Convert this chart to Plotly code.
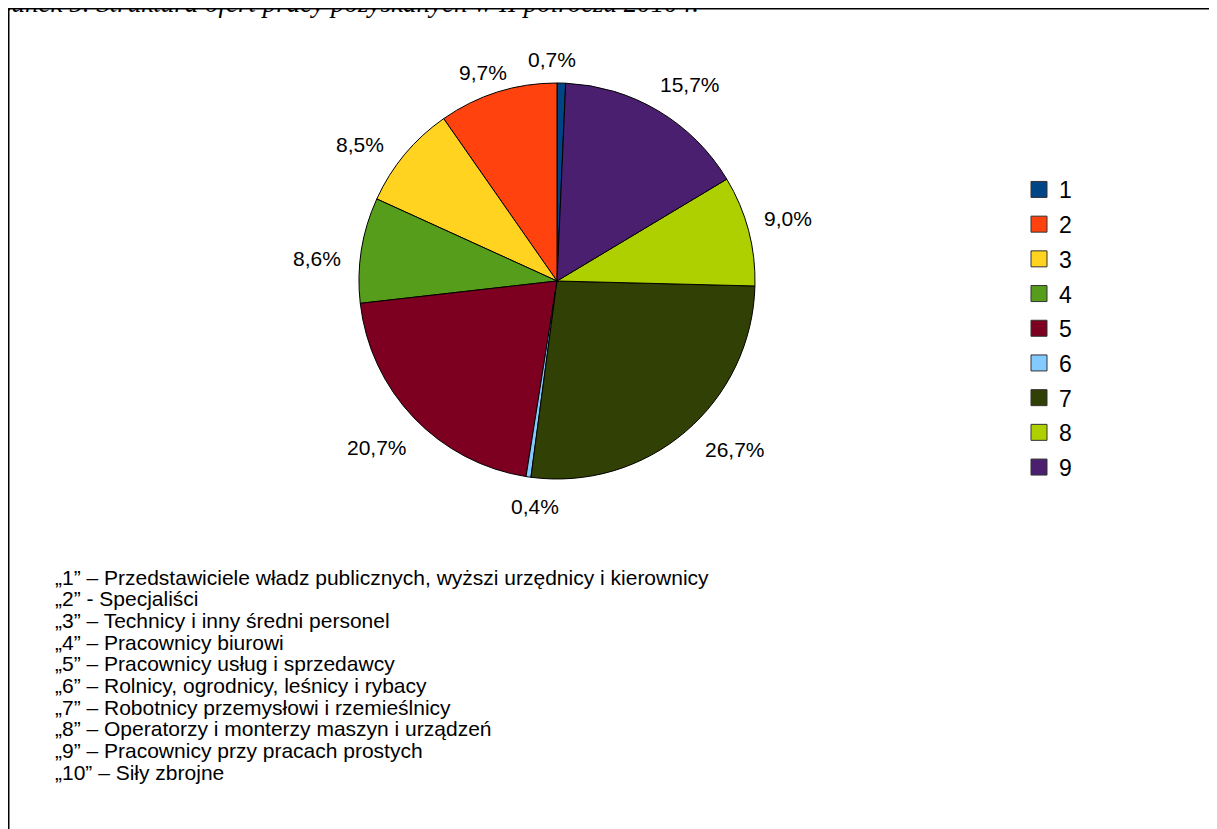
import math
import plotly.graph_objects as go

# figure is placed by the page with an 8px body margin
W, H = 1209, 821

categories = ["1", "2", "3", "4", "5", "6", "7", "8", "9"]
shares = [0.7, 9.7, 8.5, 8.6, 20.7, 0.4, 26.7, 9.0, 15.7]
colors = ["#004586", "#ff420e", "#ffd320", "#579d1c", "#7e0021",
          "#83caff", "#314004", "#aecf00", "#4b1f6f"]
descriptions = [
    "„1” – Przedstawiciele władz publicznych, wyższi urzędnicy i kierownicy",
    "„2” - Specjaliści",
    "„3” – Technicy i inny średni personel",
    "„4” – Pracownicy biurowi",
    "„5” – Pracownicy usług i sprzedawcy",
    "„6” – Rolnicy, ogrodnicy, leśnicy i rybacy",
    "„7” – Robotnicy przemysłowi i rzemieślnicy",
    "„8” – Operatorzy i monterzy maszyn i urządzeń",
    "„9” – Pracownicy przy pracach prostych",
    "„10” – Siły zbrojne",
]
title = "Rysunek 5. Struktura ofert pracy pozyskanych w II półroczu 2010 r."


def px(x):
    return x / W


def py(y):
    return 1 - y / H


cx, cy, r = 549, 273, 198
label_r = r + 19

fig = go.Figure()
fig.add_trace(go.Pie(
    labels=categories,
    values=shares,
    sort=False,
    direction="counterclockwise",
    rotation=0,
    marker=dict(colors=colors, line=dict(color="#000000", width=1)),
    textinfo="none",
    hoverinfo="label+value",
    showlegend=False,
    domain=dict(x=[px(cx - r), px(cx + r)], y=[py(cy + r), py(cy - r)]),
))

# percentage labels placed outside each slice (LibreOffice-style anchoring)
total = sum(shares)
cum = 0.0
for v in shares:
    mid = (cum + v / 2) / total * 360.0   # degrees counter-clockwise from 12 o'clock
    cum += v
    theta = math.radians(90 + mid)        # math angle
    c, s = math.cos(theta), math.sin(theta)
    lx = cx + label_r * c
    ly = cy - label_r * s
    if c > 0.38:
        xa, xs = "left", -2
    elif c < -0.38:
        xa, xs = "right", 2
    else:
        xa, xs = "center", 0
    if s > 0.38:
        ya, ys = "bottom", -6.5
    elif s < -0.38:
        ya, ys = "top", 6
    else:
        ya, ys = "middle", 0
    fig.add_annotation(
        text=f"{v:.1f}".replace(".", ",") + "%",
        xref="paper", yref="paper", x=px(lx), y=py(ly),
        xanchor=xa, yanchor=ya, xshift=xs, yshift=ys - 2, showarrow=False,
        font=dict(family="Liberation Sans, Arial", size=21, color="#000000"),
    )

for cat, col in zip(categories, colors):
    fig.add_trace(go.Scatter(
        x=[None], y=[None], mode="markers", name=cat, legendgroup=cat,
        marker=dict(symbol="square", size=16, color=col,
                    line=dict(color="#333333", width=1)),
        showlegend=True,
    ))

# frame (top and left borders)
fig.add_shape(type="line", xref="paper", yref="paper",
              x0=px(0.75), x1=px(W + 5), y0=py(0.75), y1=py(0.75),
              line=dict(color="#000000", width=1.5))
fig.add_shape(type="line", xref="paper", yref="paper",
              x0=px(0.75), x1=px(0.75), y0=py(0.75), y1=py(H + 5),
              line=dict(color="#000000", width=1.5))

# caption, cut by the top of the page
fig.add_annotation(
    text="<i>" + title + "</i>", xref="paper", yref="paper",
    x=px(693), y=py(12), xanchor="right", yanchor="bottom",
    showarrow=False,
    font=dict(family="Liberation Serif, Times New Roman", size=27, color="#000000"),
)

# description lines
base0 = 576      # first baseline (figure px)
step = 21.7
for i, line in enumerate(descriptions):
    fig.add_annotation(
        text=line, xref="paper", yref="paper",
        x=px(45), y=py(base0 + i * step - 7), xanchor="left", yanchor="middle",
        align="left", showarrow=False,
        font=dict(family="Liberation Sans, Arial", size=21, color="#000000"),
    )

fig.update_layout(
    width=W, height=H,
    margin=dict(l=0, r=0, t=0, b=0),
    paper_bgcolor="#ffffff", plot_bgcolor="#ffffff",
    separators=", ",
    xaxis=dict(visible=False), yaxis=dict(visible=False),
    legend=dict(x=px(1011), y=py(160), xanchor="left", yanchor="top",
                tracegroupgap=1.8, bgcolor="rgba(0,0,0,0)",
                font=dict(family="Liberation Sans, Arial", size=23, color="#000000")),
)

fig.write_html("out.html")
